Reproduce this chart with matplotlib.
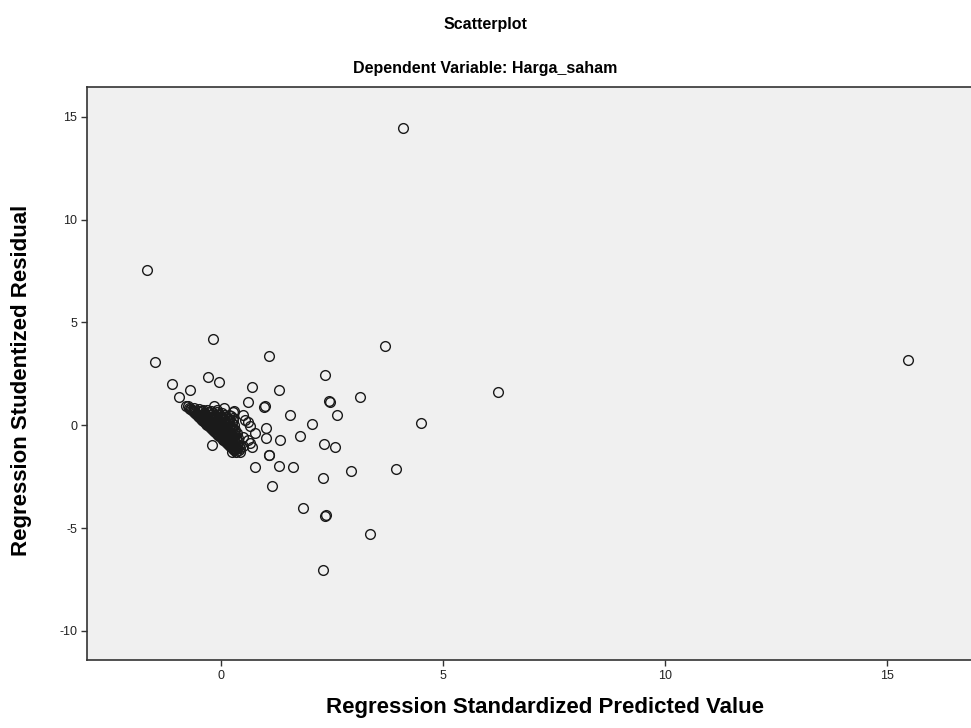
import matplotlib
matplotlib.use("Agg")
import matplotlib.pyplot as plt

plt.rcParams['font.family'] = ['Liberation Sans', 'DejaVu Sans']
plt.rcParams['axes.unicode_minus'] = False

# scattered points (predicted, residual)
outer_x = [4.10, -1.67, -0.17, -1.48, 1.08, 3.70, 15.47, 6.25, 4.50, 2.35,
           1.31, 3.13, 2.44, 1.55, 2.61, 2.04, 1.34, 1.78, 2.33, 2.57,
           1.31, 1.63, 2.30, 2.94, 3.95, 1.84, 2.35, 2.36, 3.36, 2.30,
           -1.11, -0.29, -0.04, -0.71, -0.94, 0.69, 0.61, 0.97, 0.99, 1.01,
           1.01, 0.77, -0.21, 0.65, 1.07, 1.08, 0.43, 0.77, 1.14, 2.45]
outer_y = [14.47, 7.55, 4.21, 3.06, 3.37, 3.86, 3.16, 1.63, 0.13, 2.43,
           1.72, 1.39, 1.19, 0.51, 0.51, 0.07, -0.74, -0.52, -0.91, -1.07,
           -1.97, -2.01, -2.57, -2.25, -2.12, -4.04, -4.40, -4.38, -5.31, -7.02,
           1.98, 2.34, 2.08, 1.72, 1.36, 1.88, 1.12, 0.88, 0.92, -0.14,
           -0.63, -0.38, -0.97, -0.87, -1.47, -1.44, -1.29, -2.01, -2.98, 1.15]

# dense cluster near the origin
cluster_x = [-0.78, -0.72, -0.68, -0.64, -0.60, -0.57, -0.53, -0.50, -0.46, -0.43,
             -0.40, -0.37, -0.34, -0.31, -0.28, -0.25, -0.22, -0.19, -0.16, -0.13,
             -0.10, -0.07, -0.04, -0.01, 0.02, 0.05, 0.08, 0.11, 0.14, 0.17,
             0.20, 0.23, 0.26, 0.30, 0.34,
             -0.74, -0.66, -0.55, -0.44, -0.33, -0.20, -0.08, 0.04, 0.16, 0.28,
             -0.70, -0.60, -0.50, -0.40,
             -0.62, -0.52, -0.42, -0.32, -0.22,
             -0.58, -0.48, -0.38, -0.28, -0.18, -0.08, 0.02,
             -0.53, -0.43, -0.33, -0.23, -0.13, -0.03, 0.07, 0.17,
             -0.48, -0.38, -0.28, -0.18, -0.08, 0.02, 0.12, 0.22,
             -0.43, -0.33, -0.23, -0.13, -0.03, 0.07, 0.17, 0.27,
             -0.38, -0.30, -0.22, -0.12, -0.02, 0.08, 0.18, 0.28,
             -0.33, -0.24, -0.16, -0.08, 0.00, 0.08, 0.16, 0.25,
             -0.28, -0.20, -0.12, -0.04, 0.04, 0.12, 0.20, 0.30,
             -0.23, -0.14, -0.06, 0.02, 0.10, 0.18, 0.27,
             -0.18, -0.10, -0.02, 0.06, 0.14, 0.22, 0.32,
             -0.12, -0.04, 0.04, 0.12, 0.20, 0.30,
             -0.06, 0.02, 0.10, 0.18, 0.26, 0.36,
             -0.01, 0.07, 0.15, 0.23, 0.32,
             0.04, 0.12, 0.20, 0.28, 0.38,
             0.09, 0.17, 0.25, 0.33,
             0.14, 0.22, 0.30, 0.38,
             0.19, 0.27, 0.35,
             0.24, 0.32, 0.40,
             0.28, 0.36,
             0.33, 0.40,
             -0.15, 0.07, 0.30, 0.49, 0.60, 0.65, 0.50, 0.61, 0.69, 0.43,
             0.24, -0.10, 0.28, 0.54, 0.50]
cluster_y = [0.95, 0.85, 0.78, 0.70, 0.62, 0.55, 0.47, 0.41, 0.33, 0.27,
             0.20, 0.14, 0.08, 0.02, -0.04, -0.10, -0.16, -0.22, -0.28, -0.34,
             -0.40, -0.46, -0.52, -0.58, -0.64, -0.70, -0.76, -0.82, -0.88, -0.94,
             -1.00, -1.06, -1.12, -1.20, -1.28,
             0.92, 0.76, 0.53, 0.31, 0.10, -0.17, -0.42, -0.66, -0.90, -1.15,
             0.80, 0.82, 0.78, 0.76,
             0.70, 0.71, 0.69, 0.72, 0.70,
             0.60, 0.62, 0.58, 0.62, 0.60, 0.63, 0.58,
             0.50, 0.51, 0.49, 0.52, 0.50, 0.51, 0.49, 0.52,
             0.40, 0.42, 0.38, 0.41, 0.39, 0.42, 0.40, 0.44,
             0.30, 0.31, 0.29, 0.32, 0.30, 0.31, 0.29, 0.33,
             0.20, 0.22, 0.18, 0.21, 0.19, 0.22, 0.20, 0.24,
             0.10, 0.11, 0.09, 0.12, 0.10, 0.11, 0.09, 0.12,
             0.00, 0.02, -0.02, 0.01, -0.01, 0.02, -0.02, 0.03,
             -0.10, -0.09, -0.11, -0.08, -0.11, -0.09, -0.12,
             -0.20, -0.18, -0.22, -0.19, -0.21, -0.18, -0.22,
             -0.30, -0.29, -0.31, -0.28, -0.31, -0.29,
             -0.40, -0.38, -0.42, -0.39, -0.41, -0.38,
             -0.50, -0.49, -0.51, -0.48, -0.50,
             -0.60, -0.58, -0.62, -0.59, -0.61,
             -0.70, -0.69, -0.71, -0.68,
             -0.80, -0.78, -0.82, -0.79,
             -0.90, -0.89, -0.91,
             -0.98, -1.02, -0.99,
             -1.10, -1.09,
             -1.18, -1.22,
             0.91, 0.83, 0.67, 0.51, 0.18, -0.06, -0.55, -0.71, -1.04, -1.11,
             -1.28, 0.73, 0.65, 0.26, -1.03]

x_ticks = [0, 5, 10, 15]
y_ticks = [-10, -5, 0, 5, 10, 15]

fig = plt.figure(figsize=(9.71, 7.28), dpi=100)
ax = fig.add_axes([87 / 971, 1 - 660 / 728, 1 - 87 / 971, (660 - 87) / 728])
ax.set_facecolor('#f0f0f0')

style = dict(linestyle='none', marker='o', markersize=7, markerfacecolor='none',
             markeredgecolor='#1a1a1a', markeredgewidth=1.0)
ax.plot(cluster_x, cluster_y, **style)
ax.plot(outer_x, outer_y, **style)

ax.set_xlim(-3.02, 16.9)
ax.set_ylim(-11.42, 16.45)
ax.set_xticks(x_ticks)
ax.set_yticks(y_ticks)
ax.tick_params(direction='out', length=4, width=1.0, color='#333333',
               labelsize=9, labelcolor='#222222', pad=3)
for side in ['left', 'bottom', 'top']:
    ax.spines[side].set_color('#333333')
    ax.spines[side].set_linewidth(1.2)
ax.spines['right'].set_visible(False)

fig.text(0.5, 1 - 24 / 728, 'Scatterplot', ha='center', va='center',
         fontsize=11.5, fontweight='bold')
fig.text(0.5, 1 - 68 / 728, 'Dependent Variable: Harga_saham', ha='center',
         va='center', fontsize=11.5, fontweight='bold')
fig.text(545 / 971, 1 - 707 / 728, 'Regression Standardized Predicted Value',
         ha='center', va='center', fontsize=16, fontweight='bold')
fig.text(22 / 971, 1 - 380 / 728, 'Regression Studentized Residual', ha='center',
         va='center', rotation=90, fontsize=16, fontweight='bold')

fig.savefig('out.png', dpi=100)
